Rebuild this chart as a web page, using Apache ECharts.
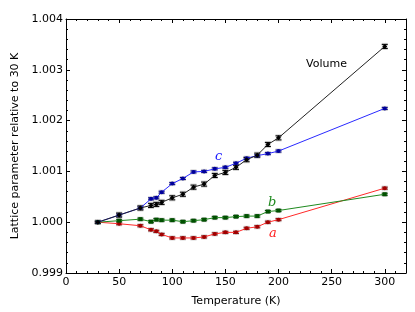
<!DOCTYPE html>
<html><head><meta charset="utf-8">
<script src="https://cdn.jsdelivr.net/npm/echarts@6/dist/echarts.min.js"></script>
<style>html,body{margin:0;padding:0;background:#fff}#c{width:415px;height:312px}</style>
</head><body><div id="c"></div>
<script>
const temps = [30,50,70,80,85,90,100,110,120,130,140,150,160,170,180,190,200,300];
const volume = [1.00000,1.00014,1.00028,1.00033,1.00035,1.00039,1.00048,1.00055,1.00069,1.00075,1.00092,1.00098,1.00108,1.00123,1.00132,1.00153,1.00166,1.00346];
const cAxis  = [1.00000,1.00014,1.00028,1.00046,1.00048,1.00059,1.00076,1.00086,1.00099,1.00100,1.00105,1.00108,1.00116,1.00126,1.00131,1.00135,1.00140,1.00224];
const bAxis  = [1.00000,1.00003,1.00006,1.00001,1.00005,1.00004,1.00004,1.00001,1.00003,1.00005,1.00009,1.00009,1.00011,1.00012,1.00012,1.00021,1.00023,1.00055];
const aAxis  = [1.00000,0.99997,0.99993,0.99985,0.99982,0.99976,0.99969,0.99969,0.99969,0.99971,0.99977,0.99980,0.99980,0.99988,0.99991,1.00000,1.00005,1.00067];
const volErr = [0.00002,0.00004,0.00004,0.00004,0.00004,0.00004,0.00004,0.00004,0.00004,0.00004,0.00004,0.00004,0.00004,0.00004,0.00004,0.00004,0.00004,0.00004];
const latErr = [0.00002,0.00002,0.00002,0.00002,0.00002,0.00002,0.00002,0.00002,0.00002,0.00002,0.00002,0.00002,0.00002,0.00002,0.00002,0.00002,0.00002,0.00002];
const xTicks = [0,50,100,150,200,250,300];
const yTicks = [0.999,1.000,1.001,1.002,1.003,1.004];

const FONT = 'DejaVu Sans';
const chart = echarts.init(document.getElementById('c'), null, {renderer:'canvas'});

function pts(vals){ return temps.map((t,i)=>[t, vals[i]]); }
function errData(vals, errs){ return temps.map((t,i)=>[t, vals[i]-errs[i], vals[i]+errs[i]]); }
function errSeries(vals, errs, color){
  return {
    type:'custom', xAxisIndex:0, yAxisIndex:0, z:3, silent:true,
    data: errData(vals, errs),
    renderItem: function(params, api){
      const x = api.value(0);
      const lo = api.coord([x, api.value(1)]);
      const hi = api.coord([x, api.value(2)]);
      const w = 3;
      const st = {stroke: color, lineWidth: 1};
      const halo = {stroke: 'rgba(150,150,150,0.45)', lineWidth: 3};
      return {type:'group', children:[
        {type:'line', shape:{x1:lo[0]-w,y1:lo[1],x2:lo[0]+w,y2:lo[1]}, style:halo},
        {type:'line', shape:{x1:hi[0]-w,y1:hi[1],x2:hi[0]+w,y2:hi[1]}, style:halo},
        {type:'line', shape:{x1:lo[0],y1:lo[1],x2:hi[0],y2:hi[1]}, style:st},
        {type:'line', shape:{x1:lo[0]-w,y1:lo[1],x2:lo[0]+w,y2:lo[1]}, style:st},
        {type:'line', shape:{x1:hi[0]-w,y1:hi[1],x2:hi[0]+w,y2:hi[1]}, style:st}
      ]};
    }
  };
}
function lineSeries(name, vals, lineColor, markColor, symbol, size){
  return {
    name, type:'line', xAxisIndex:0, yAxisIndex:0, z:4,
    data: pts(vals), symbol, symbolSize: size, showAllSymbol:true,
    lineStyle:{color: lineColor, width:1},
    itemStyle:{color: markColor, borderColor: markColor, borderWidth:0},
    emphasis:{disabled:true}, animation:false
  };
}

const axisCommon = {
  axisLine:{show:true, onZero:false, lineStyle:{color:'#000', width:1}},
  axisTick:{show:true, inside:true, length:4, lineStyle:{color:'#000'}},
  minorTick:{show:true, splitNumber:5, length:2, lineStyle:{color:'#000'}},
  splitLine:{show:false}
};

const option = {
  animation:false,
  backgroundColor:'#fff',
  grid:{left:66, right:9, top:19, bottom:38, containLabel:false},
  xAxis:[
    Object.assign({type:'value', min:0, max:320, interval:50, position:'bottom',
      name:'Temperature (K)', nameLocation:'middle', nameGap:23,
      nameTextStyle:{fontFamily:FONT, fontSize:11, color:'#000'},
      axisLabel:{fontFamily:FONT, fontSize:11, color:'#000', margin:4,
        formatter: v => xTicks.includes(v) ? String(v) : ''}}, axisCommon),
    Object.assign({type:'value', min:0, max:320, interval:50, position:'top',
      axisLabel:{show:false}}, axisCommon)
  ],
  yAxis:[
    Object.assign({type:'value', min:0.999, max:1.004, interval:0.001, position:'left',
      name:'Lattice parameter relative to 30 K', nameLocation:'middle', nameGap:38,
      nameTextStyle:{fontFamily:FONT, fontSize:11, color:'#000'},
      axisLabel:{fontFamily:FONT, fontSize:11, color:'#000', margin:3,
        formatter: v => { const r = Math.round(v*1000)/1000; return yTicks.some(t=>Math.abs(t-r)<1e-9) ? r.toFixed(3) : ''; }}}, axisCommon),
    Object.assign({type:'value', min:0.999, max:1.004, interval:0.001, position:'right',
      axisLabel:{show:false}}, axisCommon)
  ],
  series:[
    errSeries(aAxis, latErr, '#8b0000'),
    errSeries(bAxis, latErr, '#004d00'),
    errSeries(cAxis, latErr, '#00008b'),
    errSeries(volume, volErr, '#000'),
    lineSeries('a', aAxis, '#ff2a2a', '#a00000', 'circle', 4),
    lineSeries('b', bAxis, '#1f8a1f', '#005000', 'rect', 4),
    lineSeries('c', cAxis, '#2a2aff', '#00009a', 'circle', 4),
    lineSeries('Volume', volume, '#222', '#000', 'diamond', 5)
  ],
  graphic:[
    {type:'text', left:306, top:59, style:{text:'Volume', font:'11px "DejaVu Sans"', fill:'#000'}},
    {type:'text', left:215, top:150, style:{text:'c', font:'italic 13px "DejaVu Serif"', fill:'#1a1aff'}},
    {type:'text', left:268, top:196, style:{text:'b', font:'italic 13px "DejaVu Serif"', fill:'#1f8a1f'}},
    {type:'text', left:269, top:227, style:{text:'a', font:'italic 13px "DejaVu Serif"', fill:'#ff2020'}}
  ]
};
chart.setOption(option);
</script></body></html>
